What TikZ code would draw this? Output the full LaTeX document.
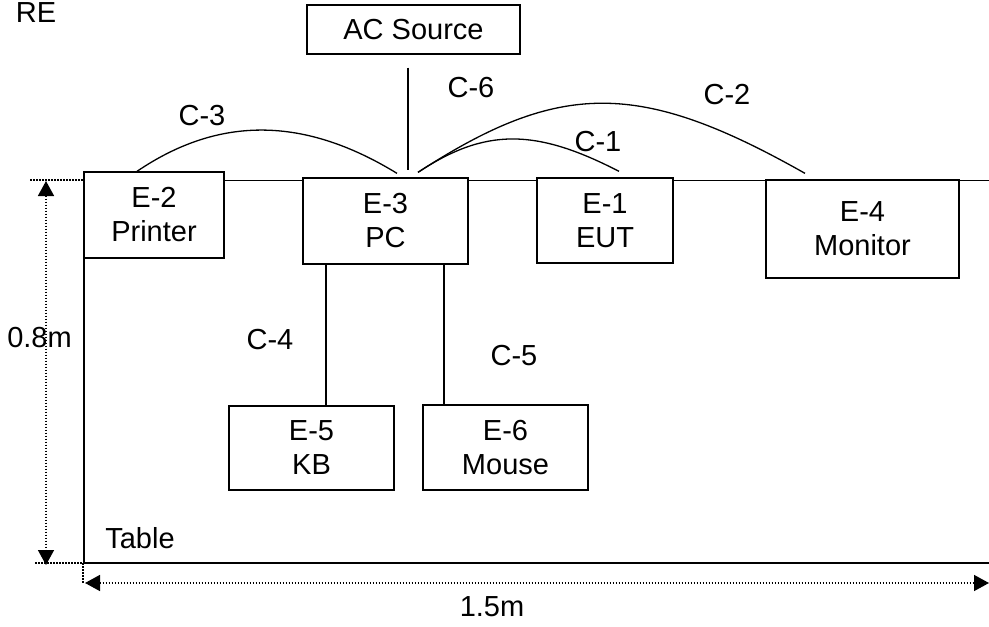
\documentclass[tikz,border=0pt]{standalone}
\usepackage{fontspec}
\setmainfont{Liberation Sans}
\usepackage{tikz}
\usetikzlibrary{arrows.meta}

\tikzset{
  unit/.style={draw, fill=white, line width=1.3pt, align=center, inner sep=0pt},
  dimline/.style={line width=1.5pt, dash pattern=on 1.5pt off 1.5pt},
  dimarrow/.style={dimline, {Triangle[length=15pt,width=16pt]}-{Triangle[length=15pt,width=16pt]}},
  cable/.style={line width=1.3pt}
}

\begin{document}
\begin{tikzpicture}[x=1pt, y=-1pt, every node/.style={font=\fontsize{29}{34}\selectfont}]
  \useasboundingbox (0,0) rectangle (989,627);
  % table
  \draw[line width=1pt] (84,180) -- (989,180);
  \draw[line width=1.8pt] (84,180) -- (84,563) -- (989,563);
  % units
  \node[unit, minimum width=213pt, minimum height=49pt] (ac) at (413.5,29.5) {AC Source};
  \node[unit, minimum width=140pt, minimum height=86pt] (e2) at (154,215) {E-2\\Printer};
  \node[unit, minimum width=165pt, minimum height=86pt] (e3) at (385.5,221) {E-3\\PC};
  \node[unit, minimum width=136pt, minimum height=85pt] (e1) at (605,220.5) {E-1\\EUT};
  \node[unit, minimum width=193pt, minimum height=98pt] (e4) at (862.5,229) {E-4\\Monitor};
  \node[unit, minimum width=165pt, minimum height=84pt] (e5) at (311.5,448) {E-5\\KB};
  \node[unit, minimum width=165pt, minimum height=85pt] (e6) at (505.5,447.5) {E-6\\Mouse};
  % cables
  \draw[cable] ([xshift=-5.5pt,yshift=-13pt]ac.south) -- ([xshift=22.5pt,yshift=7pt]e3.north);
  \draw[cable] ([xshift=-17pt,yshift=0pt]e2.north) .. controls (220,115) and (305,117) .. ([xshift=11.5pt,yshift=4pt]e3.north);
  \draw[cable] ([xshift=32.5pt,yshift=5pt]e3.north) .. controls (485,128) and (535,128) .. ([xshift=14pt,yshift=6pt]e1.north);
  \draw[cable] ([xshift=32.5pt,yshift=5pt]e3.north) .. controls (560,80) and (640,80) .. ([xshift=-57.5pt,yshift=6pt]e4.north);
  \draw[cable] ([xshift=14.5pt]e5.north) -- ([xshift=14.5pt]e5.north |- e3.south);
  \draw[cable] ([xshift=-61.5pt]e6.north) -- ([xshift=-61.5pt]e6.north |- e3.south);
  % cable labels
  \node (c6) at (471,88) {C-6};
  \node (c3) at (202,116) {C-3};
  \node (c2) at (727,95) {C-2};
  \node (c1) at (598,142) {C-1};
  \node (c4) at (270,340) {C-4};
  \node (c5) at (514,356) {C-5};
  % dimensions
  \draw[dimline] (30,180) -- (84,180);
  \draw[dimline] (35,563) -- (84,563);
  \draw[dimline] (83,563) -- (83,583);
  \draw[dimarrow] (46,181) -- (46,565);
  \draw[dimarrow] (85,583) -- (989,583);
  \node (h) at (39.5,338) {0.8m};
  \node (w) at (492,607) {1.5m};
  \node (tbl) at (140,538) {Table};
  \node (re) at (36,13) {RE};
\end{tikzpicture}
\end{document}
